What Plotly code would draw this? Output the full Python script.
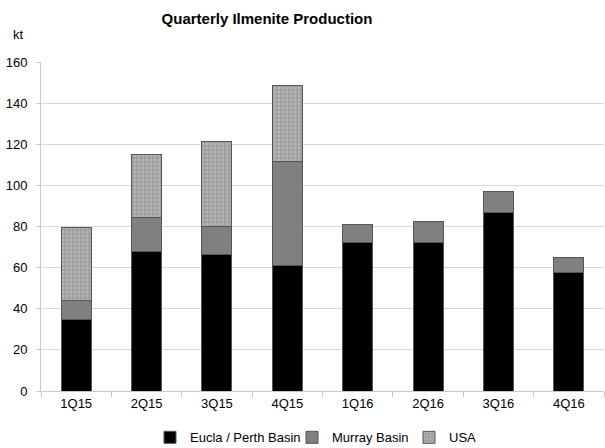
import plotly.graph_objects as go

categories = ["1Q15", "2Q15", "3Q15", "4Q15", "1Q16", "2Q16", "3Q16", "4Q16"]
eucla_perth = [35, 68, 66.5, 61, 72, 72.2, 86.6, 57.4]
murray = [9, 16.2, 13.3, 50.5, 9, 10.4, 10.2, 7.5]
usa = [35.5, 31, 41.7, 37.2, 0, 0, 0, 0]
y_ticks = [0, 20, 40, 60, 80, 100, 120, 140, 160]

FONT = "Liberation Sans Narrow, Arial Narrow, Liberation Sans, Arial, sans-serif"
LINE = dict(color="#555555", width=1)

fig = go.Figure()
fig.add_trace(go.Bar(name="Eucla / Perth Basin", x=categories, y=eucla_perth,
                     legend="legend",
                     marker=dict(color="#000000", line=LINE)))
fig.add_trace(go.Bar(name="Murray Basin", x=categories, y=murray,
                     legend="legend2",
                     marker=dict(color="#808080", line=LINE)))
fig.add_trace(go.Bar(name="USA", x=categories, y=usa,
                     legend="legend3",
                     marker=dict(color="#a6a6a6", line=LINE,
                                 pattern=dict(shape=".", size=4, solidity=0.3,
                                              fgcolor="#b8b8b8", bgcolor="#a0a0a0",
                                              fillmode="replace"))))

leg_common = dict(orientation="h", y=-0.141, yanchor="middle", xanchor="left",
                  font=dict(family=FONT, size=13), itemwidth=30,
                  bgcolor="rgba(0,0,0,0)")

W, H = 605, 448
L = 41
PW = W - L - 1
fig.update_layout(
    barmode="stack",
    bargap=0.574,
    showlegend=True,
    width=W, height=H,
    margin=dict(l=L, r=1, t=62, b=57, autoexpand=False),
    paper_bgcolor="white", plot_bgcolor="white",
    font=dict(family=FONT, size=13, color="#000000"),
    title=dict(text="<b>Quarterly Ilmenite Production</b>", x=267 / W, xanchor="center",
               y=1 - 19 / H, yref="container", yanchor="middle",
               font=dict(family=FONT, size=15)),
    legend=dict(x=(150 - L) / PW, **leg_common),
    legend2=dict(x=(292 - L) / PW, **leg_common),
    legend3=dict(x=(409 - L) / PW, **leg_common),
    annotations=[dict(text="kt", xref="paper", yref="paper",
                      x=(18 - L) / PW, y=1.084, xanchor="center", yanchor="middle",
                      showarrow=False, font=dict(family=FONT, size=13))],
)

fig.update_yaxes(range=[0, 160], tickvals=y_ticks, showgrid=True, gridcolor="#d9d9d9",
                 gridwidth=1, showline=True, linecolor="#c8c8c8", linewidth=1,
                 ticks="outside", ticklen=4, tickcolor="#c8c8c8", zeroline=False,
                 ticklabelstandoff=6,
                 tickfont=dict(family=FONT, size=13))
fig.update_xaxes(showline=True, linecolor="#c8c8c8", linewidth=1, ticks="outside",
                 tickson="boundaries", ticklen=5, tickcolor="#c8c8c8",
                 tickfont=dict(family=FONT, size=13))

fig.write_html("out.html", config={"displayModeBar": False},
               post_script="document.body.style.margin='0';")
